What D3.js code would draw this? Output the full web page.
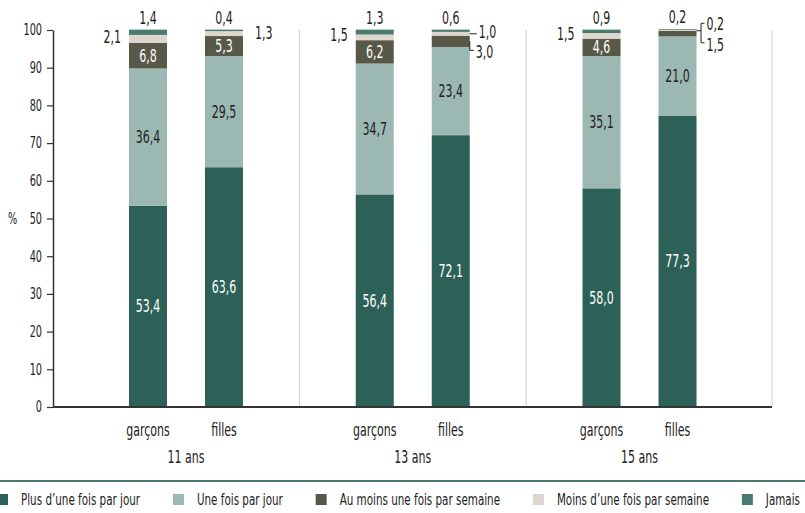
<!DOCTYPE html>
<html>
<head>
<meta charset="utf-8">
<script src="https://cdn.jsdelivr.net/npm/d3@7"></script>
<style>
  html, body { margin: 0; padding: 0; background: #fff; }
  svg { display: block; }
  text { font-family: "Liberation Sans Narrow", "DejaVu Sans Condensed", sans-serif; }
</style>
</head>
<body>
<svg id="chart" width="805" height="513"></svg>
<script>
// Age groups and sexes along the x axis
const groups = ["11 ans", "13 ans", "15 ans"];
const sexes = ["garçons", "filles"];

// Frequency categories, stacked bottom to top
const seriesNames = [
  "Plus d\u2019une fois par jour",
  "Une fois par jour",
  "Au moins une fois par semaine",
  "Moins d\u2019une fois par semaine",
  "Jamais"
];
const seriesColors = ["#2d6157", "#9cb8b2", "#585848", "#dcd6cd", "#4b7b70"];

// Values (%) per bar: 11 ans garçons, 11 ans filles, 13 ans garçons, 13 ans filles, 15 ans garçons, 15 ans filles
const plusDuneFoisParJour = [53.4, 63.6, 56.4, 72.1, 58.0, 77.3];
const uneFoisParJour      = [36.4, 29.5, 34.7, 23.4, 35.1, 21.0];
const auMoinsParSemaine   = [6.8, 5.3, 6.2, 3.0, 4.6, 1.5];
const moinsParSemaine     = [2.1, 1.3, 1.5, 1.0, 1.5, 0.2];
const jamais              = [1.4, 0.4, 1.3, 0.6, 0.9, 0.2];

const yTicks = [0, 10, 20, 30, 40, 50, 60, 70, 80, 90, 100];

const seriesValues = [plusDuneFoisParJour, uneFoisParJour, auMoinsParSemaine, moinsParSemaine, jamais];

const bars = [];
groups.forEach((g, gi) => sexes.forEach((s, si) => {
  const i = gi * 2 + si;
  let cum = 0;
  const segs = seriesValues.map((vals, k) => {
    const seg = { k, v: vals[i], y0: cum, y1: cum + vals[i] };
    cum += vals[i];
    return seg;
  });
  bars.push({ group: g, sex: s, index: i, segs });
}));

const fmt = v => d3.format(".1f")(v).replace(".", ",");

// Squeeze glyphs horizontally around their anchor for a narrow, condensed look
const NARROW = 0.72;
function condense(sel, f) {
  sel.each(function () {
    const x = +this.getAttribute("x") || 0;
    this.setAttribute("transform", `translate(${x},0) scale(${f},1) translate(${-x},0)`);
  });
}

const svg = d3.select("#chart");
const axisLeftX = 53, axisRightX = 772;
const y = d3.scaleLinear().domain([0, 100]).range([407, 30]);
const xGroup = d3.scaleBand().domain(groups).range([72.6, 752.9]);
const xSex = d3.scaleBand().domain(sexes)
  .range([xGroup.bandwidth() / 2 - 76, xGroup.bandwidth() / 2 + 76])
  .paddingInner(0.5).paddingOuter(0.25);
const barX = b => xGroup(b.group) + xSex(b.sex);
const bw = xSex.bandwidth();

// Light separators between age groups and at the right edge
const seps = groups.slice(1).map(g => xGroup(g)).concat([axisRightX]);
svg.append("g").selectAll("line").data(seps).join("line")
  .attr("x1", d => d).attr("x2", d => d)
  .attr("y1", y(100)).attr("y2", y(0))
  .attr("stroke", "#cfcfcf").attr("stroke-width", 1);

// Stacked bars
const barG = svg.append("g").selectAll("g").data(bars).join("g");
barG.selectAll("rect").data(b => b.segs.map(s => ({ ...s, b }))).join("rect")
  .attr("x", d => barX(d.b))
  .attr("width", bw)
  .attr("y", d => y(d.y1))
  .attr("height", d => y(d.y0) - y(d.y1))
  .attr("fill", d => seriesColors[d.k]);

// Y axis
const yAxis = svg.append("g").attr("transform", `translate(${axisLeftX},0)`)
  .call(d3.axisLeft(y).tickValues(yTicks).tickSize(6).tickSizeOuter(0).tickPadding(5));
yAxis.select(".domain").attr("stroke", "#333").attr("stroke-width", 1.5);
yAxis.selectAll(".tick line").attr("stroke", "#333").attr("stroke-width", 1.2);
yAxis.selectAll(".tick text").attr("font-size", 15).attr("fill", "#222")
  .style("font-family", "'Liberation Sans Narrow', 'DejaVu Sans Condensed', sans-serif");

svg.append("text").attr("x", 8).attr("y", y(50)).attr("dy", "0.35em")
  .attr("font-size", 15).attr("fill", "#222").text("%");

// X axis baseline
svg.append("line").attr("x1", axisLeftX).attr("x2", axisRightX)
  .attr("y1", y(0)).attr("y2", y(0)).attr("stroke", "#333").attr("stroke-width", 2);

// Category labels
svg.append("g").selectAll("text").data(bars).join("text")
  .attr("x", b => barX(b) + bw / 2).attr("y", 436)
  .attr("text-anchor", "middle").attr("font-size", 17).attr("fill", "#222")
  .text(b => b.sex);
svg.append("g").selectAll("text").data(groups).join("text")
  .attr("x", g => xGroup(g) + xGroup.bandwidth() / 2).attr("y", 463)
  .attr("text-anchor", "middle").attr("font-size", 17).attr("fill", "#222")
  .text(g => g);

// Value labels
const lab = svg.append("g").attr("font-size", 17);
const addText = (x, yy, t, fill, anchor) => lab.append("text")
  .attr("x", x).attr("y", yy).attr("dy", "0.35em")
  .attr("text-anchor", anchor || "middle").attr("fill", fill || "#222").text(t);
const leader = d => lab.append("path").attr("d", d)
  .attr("fill", "none").attr("stroke", "#222").attr("stroke-width", 1);

bars.forEach(b => {
  const cx = barX(b) + bw / 2, left = barX(b), right = barX(b) + bw;
  const mid = s => y((s.y0 + s.y1) / 2);
  const [s0, s1, s2, s3, s4] = b.segs;
  const outsideSmall = b.index === 3 || b.index === 5;
  addText(cx, mid(s0), fmt(s0.v), "#fff");
  addText(cx, mid(s1), fmt(s1.v), "#222");
  if (!outsideSmall) addText(cx, mid(s2), fmt(s2.v), "#fff");
  // Top category sits above the bar
  addText(cx, y(s4.y1) - 12, fmt(s4.v));

  if (b.sex === "garçons") {
    addText(left - 8, mid(s3) - 2, fmt(s3.v), "#222", "end");
  } else if (b.index === 1) {
    addText(right + 12, mid(s3) - 1, fmt(s3.v), "#222", "start");
  } else if (b.index === 3) {
    const m3 = mid(s3), m2 = mid(s2);
    leader(`M${right},${m3}H${right + 7}`);
    addText(right + 9, m3 - 2, fmt(s3.v), "#222", "start");
    leader(`M${right},${m2}V${m2 + 9}H${right + 4}`);
    addText(right + 6, m2 + 11, fmt(s2.v), "#222", "start");
  } else if (b.index === 5) {
    const j = y(s3.y0);
    const top = j - 7.5, bot = j + 12;
    leader(`M${right},${j}H${right + 4.5}M${right + 8},${top}H${right + 4.5}V${bot}H${right + 8}`);
    addText(right + 10, top + 1, fmt(s3.v), "#222", "start");
    addText(right + 10, bot + 2, fmt(s2.v), "#222", "start");
  }
});

// Legend
svg.append("line").attr("x1", 0).attr("x2", 805).attr("y1", 481).attr("y2", 481)
  .attr("stroke", "#4b7b70").attr("stroke-width", 2);
const leg = svg.append("g");
const items = seriesNames.map((n, k) => {
  const g = leg.append("g");
  g.append("rect").attr("width", 11).attr("height", 11).attr("y", 494).attr("fill", seriesColors[k]);
  const t = g.append("text").attr("x", 24).attr("y", 505).attr("font-size", 16).attr("fill", "#222").text(n);
  return { g, t };
});

// Condense every text label
condense(svg.selectAll("text"), NARROW);

const startX = -3, endX = 800;
items.forEach(it => { it.w = 24 + it.t.node().getComputedTextLength() * NARROW; });
const totalW = d3.sum(items, d => d.w);
const gap = (endX - startX - totalW) / (items.length - 1);
let cx = startX;
items.forEach(it => { it.g.attr("transform", `translate(${cx},0)`); cx += it.w + gap; });
</script>
</body>
</html>
